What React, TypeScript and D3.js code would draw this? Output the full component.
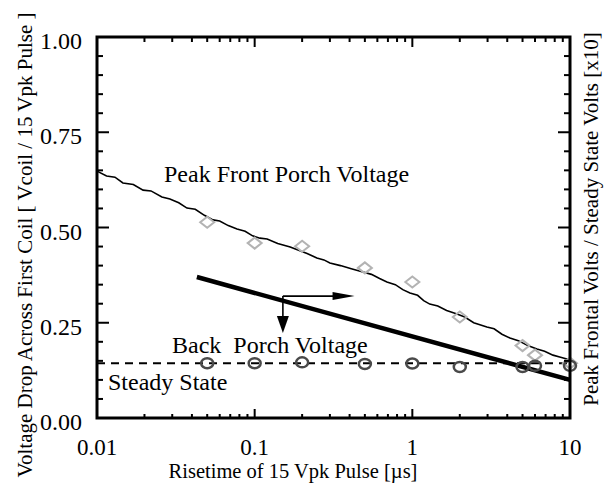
import React from "react";
import * as d3 from "d3";

// ---- data ----
const xTickValues = [0.01, 0.1, 1, 10];
const xTickLabels = ["0.01", "0.1", "1", "10"];
const yTickValues = [0, 0.25, 0.5, 0.75, 1];
const yTickLabels = ["0.00", "0.25", "0.50", "0.75", "1.00"];

// Peak front porch voltage (thin, slightly stepped line)
const peakLine: [number, number][] = [
  [0.01, 0.648], [0.0115, 0.635], [0.013, 0.632], [0.0146, 0.617], [0.017, 0.613],
  [0.0196, 0.598], [0.022, 0.596], [0.0258, 0.58], [0.029, 0.575], [0.033, 0.565],
  [0.0372, 0.551], [0.042, 0.548], [0.048, 0.532], [0.0544, 0.52], [0.06, 0.517],
  [0.068, 0.505], [0.0773, 0.496], [0.087, 0.49], [0.097, 0.478], [0.108, 0.472],
  [0.12, 0.47], [0.14, 0.458], [0.168, 0.449], [0.19, 0.44], [0.215, 0.432],
  [0.248, 0.42], [0.275, 0.415], [0.3, 0.407], [0.35, 0.4], [0.41, 0.392],
  [0.486, 0.383], [0.55, 0.377], [0.62, 0.366], [0.69, 0.357], [0.78, 0.35],
  [0.87, 0.337], [0.966, 0.328], [1.08, 0.322], [1.18, 0.308], [1.29, 0.299],
  [1.45, 0.294], [1.65, 0.282], [1.92, 0.273], [2.15, 0.265], [2.45, 0.25],
  [2.97, 0.239], [3.3, 0.234], [3.7, 0.22], [4.16, 0.21], [4.7, 0.203],
  [5.4, 0.19], [6.17, 0.181], [6.9, 0.175], [7.8, 0.165], [8.6, 0.16],
  [9.55, 0.155], [10, 0.152],
];

// Measured peak frontal volts (gray diamonds)
const diamondX = [0.05, 0.1, 0.2, 0.5, 1, 2, 5, 6, 10];
const diamondV = [0.514, 0.459, 0.451, 0.394, 0.357, 0.265, 0.19, 0.165, 0.144];

// Measured steady state (dark circles)
const circleX = [0.05, 0.1, 0.2, 0.5, 1, 2, 5, 6, 10];
const circleV = [0.144, 0.144, 0.146, 0.142, 0.143, 0.134, 0.134, 0.137, 0.137];

// Steady state level (dashed)
const steadyState = 0.144;

// Back porch voltage (thick line)
const backPorchX = [0.043, 10];
const backPorchV = [0.37, 0.1];

// Arrow annotation: corner, horizontal end, vertical end
const arrowCorner: [number, number] = [0.151, 0.32];
const arrowRightX = 0.43;
const arrowDownV = 0.223;

const W = 606;
const H = 483;
const L = 97, R = 570, T = 37, B = 418;
const FONT = "'Liberation Serif', 'Times New Roman', Times, serif";

export default function App() {
  const x = d3.scaleLog().domain([0.01, 10]).range([L, R]);
  const y = d3.scaleLinear().domain([0, 1]).range([B, T]);

  const line = d3.line<[number, number]>().x((d) => x(d[0])).y((d) => y(d[1]));

  const minorX: number[] = [];
  for (const dec of [0.01, 0.1, 1]) {
    for (let k = 2; k <= 9; k++) minorX.push(dec * k);
  }
  const minorY = d3.range(0, 21).map((i) => i * 0.05).filter((v) => Math.abs(v * 4 - Math.round(v * 4)) > 1e-6);

  const bp: [number, number][] = backPorchX.map((v, i) => [v, backPorchV[i]]);

  const cx = x(arrowCorner[0]);
  const cy = y(arrowCorner[1]);
  const hx = x(arrowRightX);
  const vy = y(arrowDownV);

  const ts = { fontFamily: FONT };

  return (
    <svg
      width={W}
      height={H}
      style={{ position: "absolute", left: 0, top: 0, background: "#fff" }}
    >
      <rect x={0} y={0} width={W} height={H} fill="#fff" />

      {/* peak front porch line */}
      <path d={line(peakLine) || ""} fill="none" stroke="#000" strokeWidth={1.6} />

      {/* steady state dashed line */}
      <line
        x1={x(0.01)} x2={x(10)} y1={y(steadyState)} y2={y(steadyState)}
        stroke="#000" strokeWidth={2} strokeDasharray="8,6"
      />

      {/* back porch thick line */}
      <path d={line(bp) || ""} fill="none" stroke="#000" strokeWidth={4.5} />

      {/* diamonds */}
      {diamondX.map((dx, i) => {
        const px = x(dx), py = y(diamondV[i]);
        return (
          <path
            key={"d" + i}
            d={`M${px - 7},${py} L${px},${py - 5.5} L${px + 7},${py} L${px},${py + 5.5} Z`}
            fill="none" stroke="#b3b3b3" strokeWidth={2}
          />
        );
      })}

      {/* circles */}
      {circleX.map((c, i) => (
        <ellipse
          key={"c" + i}
          cx={x(c)} cy={y(circleV[i])} rx={6} ry={5}
          fill="none" stroke="#4a4a4a" strokeWidth={2.5}
        />
      ))}

      {/* arrows */}
      <line x1={cx} y1={cy} x2={hx - 20} y2={cy} stroke="#000" strokeWidth={1.6} />
      <path d={`M${hx},${cy} L${hx - 22},${cy - 4} L${hx - 22},${cy + 4} Z`} fill="#000" />
      <line x1={cx} y1={cy} x2={cx} y2={vy - 15} stroke="#000" strokeWidth={1.6} />
      <path d={`M${cx},${vy} L${cx - 6},${vy - 17} L${cx + 6},${vy - 17} Z`} fill="#000" />

      {/* frame */}
      <rect x={L} y={T} width={R - L} height={B - T} fill="none" stroke="#000" strokeWidth={3} />

      {/* x ticks (bottom and top, inward) */}
      {xTickValues.slice(1, 3).map((v, i) => (
        <g key={"xt" + i}>
          <line x1={x(v)} x2={x(v)} y1={B} y2={B - 9} stroke="#000" strokeWidth={2} />
          <line x1={x(v)} x2={x(v)} y1={T} y2={T + 10} stroke="#000" strokeWidth={2} />
        </g>
      ))}
      {minorX.map((v, i) => (
        <g key={"xm" + i}>
          <line x1={x(v)} x2={x(v)} y1={B} y2={B - 4} stroke="#000" strokeWidth={2} />
          <line x1={x(v)} x2={x(v)} y1={T} y2={T + 5} stroke="#000" strokeWidth={2} />
        </g>
      ))}

      {/* y ticks (left and right, inward) */}
      {yTickValues.map((v, i) => (
        <g key={"yt" + i}>
          <line x1={L} x2={L + 12} y1={y(v)} y2={y(v)} stroke="#000" strokeWidth={2} />
          <line x1={R} x2={R - 12} y1={y(v)} y2={y(v)} stroke="#000" strokeWidth={2} />
        </g>
      ))}
      {minorY.map((v, i) => (
        <g key={"ym" + i}>
          <line x1={L} x2={L + 6} y1={y(v)} y2={y(v)} stroke="#000" strokeWidth={2} />
          <line x1={R} x2={R - 6} y1={y(v)} y2={y(v)} stroke="#000" strokeWidth={2} />
        </g>
      ))}

      {/* tick labels */}
      {xTickValues.map((v, i) => (
        <text key={"xl" + i} x={x(v)} y={455} textAnchor="middle" fontSize={23} fill="#000" style={ts}>
          {xTickLabels[i]}
        </text>
      ))}
      {yTickValues.map((v, i) => (
        <text key={"yl" + i} x={82} y={y(v) + 12} textAnchor="end" fontSize={24} fill="#000" style={ts}>
          {yTickLabels[i]}
        </text>
      ))}

      {/* annotations */}
      <text x={164} y={182} fontSize={24} fill="#000" style={ts}>Peak Front Porch Voltage</text>
      <text x={172} y={353} fontSize={24} fill="#000" style={{ ...ts, whiteSpace: "pre" }}>{"Back  Porch Voltage"}</text>
      <text x={108} y={390} fontSize={24} fill="#000" style={ts}>Steady State</text>

      {/* axis titles */}
      <text x={293} y={478} textAnchor="middle" fontSize={20.5} fill="#000" style={ts}>
        Risetime of 15 Vpk Pulse [µs]
      </text>
      <text
        transform={`translate(32,245) rotate(-90)`}
        textAnchor="middle" fontSize={21} fill="#000" style={ts}
      >
        Voltage Drop Across First Coil [ Vcoil / 15 Vpk Pulse ]
      </text>
      <text
        transform={`translate(598,219) rotate(-90)`}
        textAnchor="middle" fontSize={21} fill="#000" style={ts}
      >
        Peak Frontal Volts / Steady State Volts [x10]
      </text>
    </svg>
  );
}
